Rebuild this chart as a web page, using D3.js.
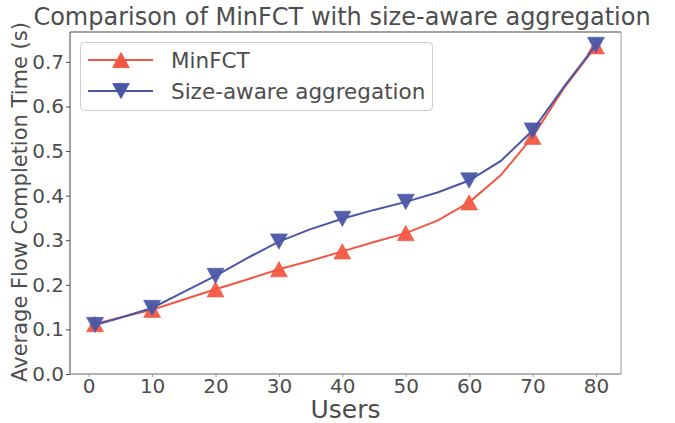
<!DOCTYPE html>
<html>
<head>
<meta charset="utf-8">
<script src="https://cdn.jsdelivr.net/npm/d3@7"></script>
<style>
  body { margin: 0; background: #fff; }
  text { font-family: "DejaVu Sans", sans-serif; fill: #4d4d4d; }
</style>
</head>
<body>
<div id="chart"></div>
<script>
// data
var users = [1, 5, 10, 15, 20, 25, 30, 35, 40, 45, 50, 55, 60, 65, 70, 75, 80];
var minfct = [0.112, 0.127, 0.144, 0.167, 0.190, 0.212, 0.235, 0.254, 0.275, 0.296, 0.316, 0.344, 0.385, 0.446, 0.532, 0.642, 0.735];
var sizeAware = [0.110, 0.126, 0.148, 0.184, 0.220, 0.260, 0.297, 0.325, 0.348, 0.368, 0.386, 0.407, 0.434, 0.478, 0.546, 0.645, 0.738];
var xTicks = [0, 10, 20, 30, 40, 50, 60, 70, 80];
var yTicks = [0.0, 0.1, 0.2, 0.3, 0.4, 0.5, 0.6, 0.7];

var series = [
    { name: "MinFCT", values: minfct, c: "#f25742", mark: "up" },
    { name: "Size-aware aggregation", values: sizeAware, c: "#4a56a6", mark: "down" }
];

var draw = function() {
    var width = 675, height = 423;
    var m = { left: 70, right: 54, top: 32, bottom: 49 };

    var svg = d3.select("#chart").append("svg")
        .attr("width", width)
        .attr("height", height);

    var x = d3.scaleLinear().domain([-2.95, 83.95]).range([m.left, width - m.right]);
    var y = d3.scaleLinear().domain([0, 0.767]).range([height - m.bottom, m.top]);

    // axes
    var gx = svg.append("g")
        .attr("transform", "translate(0," + (height - m.bottom) + ")")
        .call(d3.axisBottom(x).tickValues(xTicks).tickSize(3).tickPadding(2).tickFormat(d3.format("d")));
    gx.select(".domain").remove();
    gx.selectAll("line").attr("stroke", "#999");
    gx.selectAll("text").attr("font-size", 20).attr("fill", "#4d4d4d");

    var gy = svg.append("g")
        .attr("transform", "translate(" + m.left + ",0)")
        .call(d3.axisLeft(y).tickValues(yTicks).tickSize(4).tickPadding(2).tickFormat(d3.format(".1f")));
    gy.select(".domain").remove();
    gy.selectAll("line").attr("stroke", "#444");
    gy.selectAll("text").attr("font-size", 20).attr("fill", "#4d4d4d");

    // frame
    var x0 = m.left, x1 = width - m.right, y0 = m.top, y1 = height - m.bottom;
    svg.append("line").attr("x1", x0).attr("x2", x1).attr("y1", y0).attr("y2", y0).attr("stroke", "#444");
    svg.append("line").attr("x1", x0).attr("x2", x0).attr("y1", y0).attr("y2", y1).attr("stroke", "#444");
    svg.append("line").attr("x1", x1).attr("x2", x1).attr("y1", y0).attr("y2", y1).attr("stroke", "#999");
    svg.append("line").attr("x1", x0).attr("x2", x1).attr("y1", y1).attr("y2", y1).attr("stroke", "#999").attr("stroke-width", 1.5);

    var tri = function(dir, s) {
        var h = s * 0.9;
        if (dir === "up") return "M0," + (-h) + "L" + s + "," + h + "L" + (-s) + "," + h + "Z";
        return "M0," + h + "L" + s + "," + (-h) + "L" + (-s) + "," + (-h) + "Z";
    };

    var line = d3.line().x(d => x(d[0])).y(d => y(d[1]));

    series.forEach(function(s) {
        var pts = users.map((u, i) => [u, s.values[i]]);
        svg.append("path")
            .datum(pts)
            .attr("fill", "none")
            .attr("stroke", s.c)
            .attr("stroke-width", 2)
            .attr("d", line);
        svg.append("g")
            .selectAll("path")
            .data(pts.filter(d => d[0] === 1 || d[0] % 10 === 0))
            .join("path")
            .attr("transform", d => "translate(" + x(d[0]) + "," + y(d[1]) + ")")
            .attr("d", tri(s.mark, 8.5))
            .attr("fill", s.c)
            .attr("fill-opacity", 0.95)
            .attr("stroke", s.c)
            .attr("stroke-opacity", 0.6)
            .attr("stroke-width", 1);
    });

    // legend
    var lg = svg.append("g");
    lg.append("rect")
        .attr("x", 80.5).attr("y", 42.5)
        .attr("width", 352).attr("height", 68)
        .attr("rx", 4)
        .attr("fill", "#fff").attr("fill-opacity", 0.8)
        .attr("stroke", "#ccc");
    var item = lg.selectAll("g")
        .data(series)
        .join("g")
        .attr("transform", (d, i) => "translate(0," + (60 + i * 31) + ")");
    item.append("line")
        .attr("x1", 88).attr("x2", 153)
        .attr("stroke", d => d.c).attr("stroke-width", 2);
    item.append("path")
        .attr("transform", "translate(121,0)")
        .attr("d", d => tri(d.mark, 8.5))
        .attr("fill", d => d.c)
        .attr("stroke", d => d.c).attr("stroke-opacity", 0.6);
    item.append("text")
        .attr("x", 171).attr("dy", "0.35em")
        .attr("font-size", 21.5)
        .text(d => d.name);

    // labels
    svg.append("text")
        .attr("x", 342).attr("y", 25)
        .attr("text-anchor", "middle")
        .attr("font-size", 24)
        .text("Comparison of MinFCT with size-aware aggregation");
    svg.append("text")
        .attr("x", (x0 + x1) / 2).attr("y", 418)
        .attr("text-anchor", "middle")
        .attr("font-size", 25)
        .text("Users");
    svg.append("text")
        .attr("transform", "translate(27," + 202 + ") rotate(-90)")
        .attr("text-anchor", "middle")
        .attr("font-size", 21)
        .text("Average Flow Completion Time (s)");
};

window.onload = draw;
</script>
</body>
</html>
